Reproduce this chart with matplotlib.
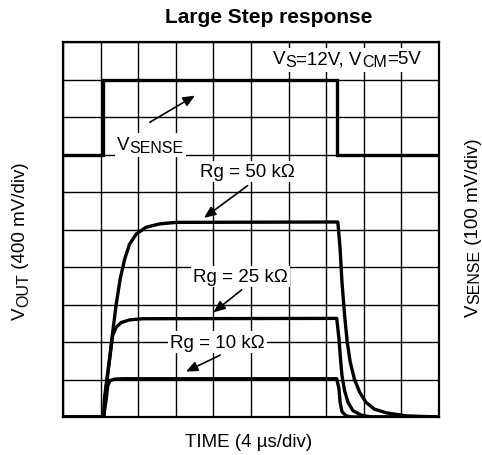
import matplotlib
matplotlib.use("Agg")
import matplotlib.pyplot as plt
from matplotlib.patches import Rectangle
from matplotlib.transforms import Bbox, IdentityTransform

plt.rcParams['font.family'] = ['Liberation Sans', 'DejaVu Sans']

# ---- data (in divisions) ----
vsense_t = [0, 1.06, 1.06, 7.29, 7.29, 10]
vsense_v = [7.0, 7.0, 9.0, 9.0, 7.0, 7.0]

rg50_t = [0, 1.08, 1.15, 1.24, 1.32, 1.41, 1.52, 1.64, 1.77, 1.95, 2.21, 2.57, 3.01,
          7.31, 7.37, 7.42, 7.49, 7.56, 7.64, 7.75, 7.89, 8.06, 8.28, 8.60, 9.13, 10]
rg50_v = [0, 0, 0.83, 1.54, 2.25, 2.97, 3.68, 4.21, 4.61, 4.88, 5.06, 5.15, 5.19,
          5.20, 4.48, 3.59, 2.70, 1.99, 1.46, 1.01, 0.66, 0.39, 0.21, 0.11, 0.03, 0]

rg25_t = [0, 1.08, 1.10, 1.19, 1.26, 1.32, 1.41, 1.55, 1.77, 2.12,
          7.28, 7.34, 7.38, 7.42, 7.49, 7.58, 7.71, 7.93, 8.2, 10]
rg25_v = [0, 0, 0.48, 1.19, 1.72, 2.17, 2.39, 2.52, 2.59, 2.62,
          2.63, 2.08, 1.55, 1.10, 0.70, 0.39, 0.17, 0.05, 0, 0]

rg10_t = [0, 1.08, 1.15, 1.19, 1.25, 1.37, 1.6, 7.28, 7.34, 7.37, 7.42, 7.53, 7.7, 10]
rg10_v = [0, 0, 0.48, 0.83, 0.97, 1.01, 1.02, 1.02, 0.75, 0.39, 0.14, 0.03, 0, 0]

title = "Large Step response"
xlabel = "TIME (4 µs/div)"
ylabel_left = [("V", 0), ("OUT", 1), (" (400 mV/div)", 0)]
ylabel_right = [("V", 0), ("SENSE", 1), (" (100 mV/div)", 0)]
cond_text = [("V", 0), ("S", 1), ("=12V, V", 0), ("CM", 1), ("=5V", 0)]
vsense_text = [("V", 0), ("SENSE", 1)]
rg_labels = ["Rg = 50 kΩ", "Rg = 25 kΩ", "Rg = 10 kΩ"]

FS = 13.5
FS_SUB = 11.5
DROP = 2.2

# ---- figure ----
fig = plt.figure(figsize=(4.82, 4.56), dpi=100)
ax = fig.add_axes([63/482, 38/456, 376/482, 375/456])
ax.set_xlim(0, 10)
ax.set_ylim(0, 10)
ax.set_xticks(range(11))
ax.set_yticks(range(11))
ax.tick_params(length=0, labelbottom=False, labelleft=False)
ax.grid(True, color='black', linewidth=1.0)
ax.set_axisbelow(True)
for s in ax.spines.values():
    s.set_linewidth(1.6)

lw = 2.4
ax.plot(vsense_t, vsense_v, color='black', lw=lw, solid_joinstyle='miter', zorder=3)
ax.plot(rg50_t, rg50_v, color='black', lw=lw, zorder=3)
ax.plot(rg25_t, rg25_v, color='black', lw=lw, zorder=3)
ax.plot(rg10_t, rg10_v, color='black', lw=lw, zorder=3)


def seq_text(x, y, pieces):
    """Horizontal run of text pieces; sub pieces smaller and lowered."""
    prev = None
    objs = []
    for s, sub in pieces:
        kw = dict(fontsize=FS_SUB if sub else FS, va='baseline', ha='left',
                  textcoords='offset points', xytext=(0, -DROP if sub else 0),
                  annotation_clip=False, color='black', zorder=5)
        if prev is None:
            t = ax.annotate(s, xy=(x, y), xycoords='data', **kw)
        else:
            t = ax.annotate(s, xy=(1, y), xycoords=(prev, 'data'), **kw)
        prev = t
        objs.append(t)
    return objs


def seq_vtext(xf, yf, pieces, drop):
    """Vertical (rotated 90) run of text pieces in figure fraction."""
    prev = None
    for s, sub in pieces:
        kw = dict(fontsize=FS_SUB if sub else FS, va='baseline', ha='left',
                  rotation=90, rotation_mode='anchor',
                  textcoords='offset points', xytext=(drop if sub else 0, 0),
                  annotation_clip=False, color='black')
        if prev is None:
            t = ax.annotate(s, xy=(xf, yf), xycoords='figure fraction', **kw)
        else:
            t = ax.annotate(s, xy=(xf, 1), xycoords=('figure fraction', prev), **kw)
        prev = t


groups = [seq_text(5.59, 9.44, cond_text), seq_text(1.44, 7.15, vsense_text)]

box = dict(facecolor='white', edgecolor='none', pad=1.5)
label_pos = [(3.64, 6.43), (3.46, 3.63), (2.85, 1.88)]
for lab, (x, y) in zip(rg_labels, label_pos):
    ax.text(x, y, lab, fontsize=FS, va='baseline', ha='left', bbox=box, zorder=4)

arrows = [((2.31, 7.86), (3.51, 8.57)),
          ((4.91, 6.17), (3.75, 5.31)),
          ((4.75, 3.39), (4.00, 2.79)),
          ((4.18, 1.65), (3.27, 1.21))]
for tail, tip in arrows:
    ax.annotate('', xy=tip, xytext=tail,
                arrowprops=dict(arrowstyle='-|>,head_length=0.7,head_width=0.3',
                                color='black', lw=1.2, shrinkA=0, shrinkB=0),
                zorder=5)

fig.text(268.5/482, 1 - 23.3/456, title, fontsize=15, fontweight='bold',
         ha='center', va='baseline')
fig.text(249/482, 1 - 447/456, xlabel, fontsize=FS, ha='center', va='baseline')
seq_vtext(25/482, 1 - 320/456, ylabel_left, 2.0)
seq_vtext(478/482, 1 - 317/456, ylabel_right, 0.8)

# white backgrounds behind the piecewise labels
fig.canvas.draw()
renderer = fig.canvas.get_renderer()
for objs in groups:
    bb = Bbox.union([t.get_window_extent(renderer) for t in objs])
    pad = 2.5
    rect = Rectangle((bb.x0 - pad, bb.y0 - pad), bb.width + 2 * pad, bb.height + 2 * pad,
                     transform=IdentityTransform(), facecolor='white',
                     edgecolor='none', zorder=4, clip_on=False)
    ax.add_artist(rect)

fig.savefig('out.png', dpi=100)
